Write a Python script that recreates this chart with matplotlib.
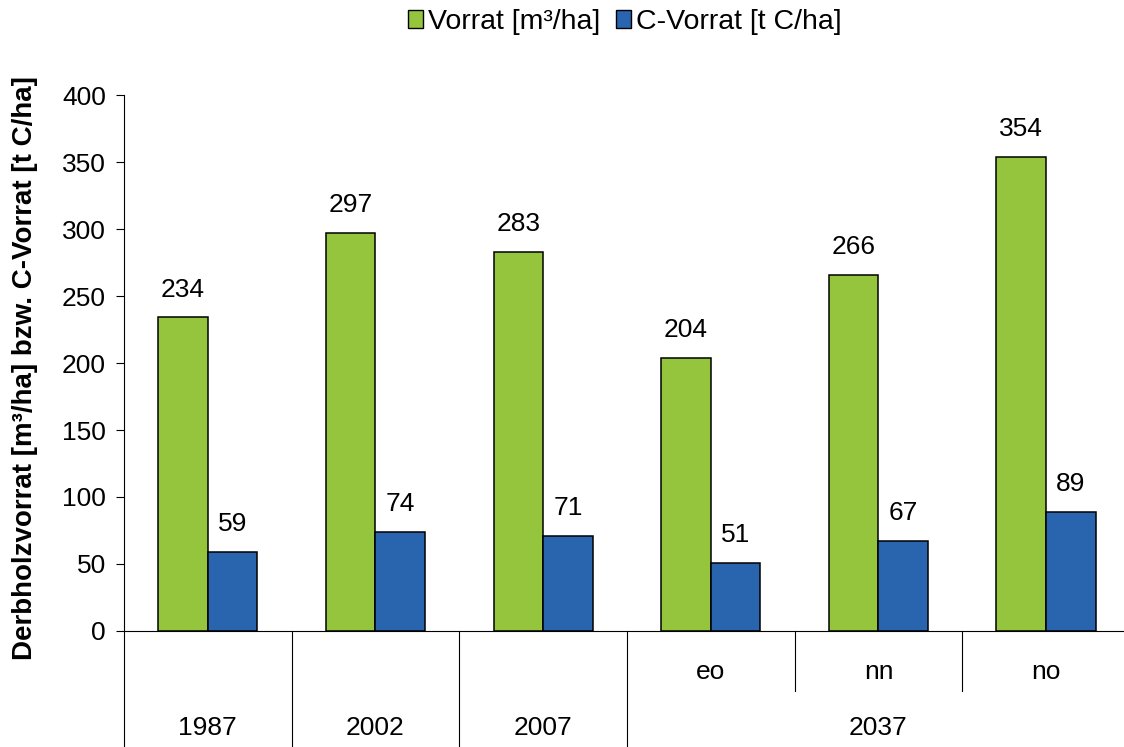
import matplotlib
matplotlib.use("Agg")
import matplotlib.pyplot as plt
import numpy as np
from matplotlib.patches import Patch

plt.rcParams["font.family"] = ["Liberation Sans", "DejaVu Sans"]

# data
groups = ["1987", "2002", "2007", "2037"]
sub_labels = ["", "", "", "eo", "nn", "no"]
group_of = [0, 1, 2, 3, 3, 3]
vorrat = [234, 297, 283, 204, 266, 354]
c_vorrat = [59, 74, 71, 51, 67, 89]
series_names = ["Vorrat [m³/ha]", "C-Vorrat [t C/ha]"]
colors = ["#95C43D", "#2964AE"]

FS = 19

fig = plt.figure(figsize=(11.24, 7.47), dpi=100)
# right end of the axis runs slightly past the figure edge, like the reference
ax = fig.add_axes([0.1103, 0.1553, 0.895, 0.7175])

x = np.arange(len(vorrat))
w = 0.296
b1 = ax.bar(x - w / 2, vorrat, w, color=colors[0], edgecolor="black", linewidth=1.1)
b2 = ax.bar(x + w / 2, c_vorrat, w, color=colors[1], edgecolor="black", linewidth=1.1)

for bars, vals in ((b1, vorrat), (b2, c_vorrat)):
    for r, v in zip(bars, vals):
        ax.annotate(f"{v}", (r.get_x() + r.get_width() / 2, v), xytext=(0, 15),
                    textcoords="offset points", ha="center", va="baseline", fontsize=FS)

ax.set_xlim(-0.5, len(vorrat) - 0.5)
ax.set_ylim(0, 400)
ax.set_yticks(np.arange(0, 401, 50))
ax.tick_params(axis="y", labelsize=FS, length=6, width=0.8, direction="out", pad=7)
ax.set_xticks([])
for s in ("top", "right"):
    ax.spines[s].set_visible(False)
ax.spines["left"].set_linewidth(0.8)
ax.spines["bottom"].set_linewidth(0.8)
ax.set_ylabel("Derbholzvorrat [m³/ha] bzw. C-Vorrat [t C/ha]", fontsize=20, fontweight="bold", va="center")
ax.yaxis.set_label_coords(-0.0984, 0.49)

# two-level category axis
trans = ax.get_xaxis_transform()
ax.plot([-0.5, -0.5], [0, -0.216], color="black", lw=0.8, transform=trans, clip_on=False)
for i in range(1, len(vorrat)):
    bottom = -0.216 if group_of[i] != group_of[i - 1] else -0.112
    ax.plot([i - 0.5, i - 0.5], [0, bottom], color="black", lw=0.8, transform=trans, clip_on=False)
for i, s in enumerate(sub_labels):
    if s:
        ax.text(i, -0.0765, s, ha="center", va="center", fontsize=FS, transform=trans)
for g, name in enumerate(groups):
    idx = [i for i, gg in enumerate(group_of) if gg == g]
    ax.text(np.mean(idx), -0.181, name, ha="center", va="center", fontsize=FS, transform=trans)

handles = [Patch(facecolor=c, edgecolor="black", label=n) for c, n in zip(colors, series_names)]
fig.legend(handles=handles, loc="center", bbox_to_anchor=(0.5556, 0.9705), ncol=2, frameon=False,
           fontsize=20.5, handlelength=0.55, handleheight=0.55, handletextpad=0.15, columnspacing=0.55)

fig.savefig("out.png", dpi=100)
